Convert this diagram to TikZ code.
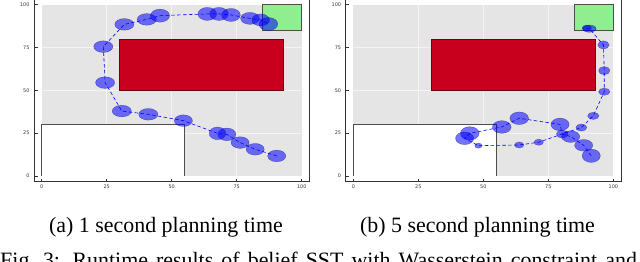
\documentclass[tikz,border=0pt]{standalone}
\usepackage{fontspec}
\setmainfont{Liberation Serif}
\newfontfamily\tickfont{DejaVu Sans}
\usetikzlibrary{calc}

\definecolor{obstred}{RGB}{200,0,30}
\definecolor{goalgreen}{RGB}{144,238,144}
\definecolor{plotbg}{RGB}{229,229,229}

\begin{document}
\begin{tikzpicture}[x=0.03cm,y=0.03cm,
  blobstyle/.style={fill=blue,fill opacity=0.55,draw=blue!35!black,draw opacity=0.45,line width=0.3pt},
  trajline/.style={blue,densely dashed,line width=0.5pt},
  ticklabel/.style={font=\tickfont\fontsize{4.2}{5}\selectfont,text=black!80,inner sep=0.5pt},
  captext/.style={font=\fontsize{18.7}{22}\selectfont,inner sep=0pt}]

\useasboundingbox (0,0) rectangle (640,262);

% ---- one panel: workspace [0,100]x[0,100] with obstacles and goal ----
\newcommand{\drawpanel}[1]{
  \fill[plotbg] (0,0) rectangle (100,100);
  \foreach \g in {25,50,75} {
    \draw[white,opacity=0.6,line width=0.4pt] (\g,0) -- (\g,100);
    \draw[white,opacity=0.6,line width=0.4pt] (0,\g) -- (100,\g);
  }
  % start region, obstacle, goal
  \fill[white] (0,0) rectangle (55,30);
  \draw[black!70,line width=0.6pt] (0,0) -- (0,30) -- (55,30) -- (55,0);
  \draw[fill=obstred,draw=obstred!55!black,line width=0.4pt] (30,50) rectangle (93,80);
  \draw[fill=goalgreen,draw=black!70,line width=0.5pt] (85,85) rectangle (100,100);
  % axes and ticks
  \draw[black!80,line width=0.6pt] (-3,102.8) -- (-3,-2.9) -- (102.9,-2.9) -- (102.9,102.8);
  \foreach \t in {0,25,50,75,100} {
    \draw[black!80,line width=0.4pt] (\t,-2.9) -- (\t,-1.5);
    \draw[black!80,line width=0.4pt] (-3,\t) -- (-1.6,\t);
    \node[ticklabel,anchor=north] (#1x\t) at (\t,-4.6) {\t};
    \node[ticklabel,anchor=east] (#1y\t) at (-4.4,\t) {\t};
  }
}

% ---- belief ellipse: \blob{name}{x,y}{x radius}{y radius}
\newcommand{\blob}[4]{
  \coordinate (#1) at (#2);
  \draw[blobstyle] (#1) ellipse [x radius=#3, y radius=#4];
}

% (a) 1 second
\begin{scope}[xshift=1.251cm,yshift=2.58cm,x=0.078cm,y=0.05139cm]
  \drawpanel{L}
  \blob{la}{90.4,11.7}{3.5}{3.4}
  \blob{lb}{82.1,15.6}{3.5}{3.4}
  \blob{lc}{76.3,19.5}{3.5}{3.4}
  \blob{ld}{71.2,24.3}{3.5}{3.7}
  \blob{le}{67.6,24.9}{3.2}{3.7}
  \blob{lf}{54.5,32.3}{3.5}{3.4}
  \blob{lg}{41.0,36.0}{3.7}{3.4}
  \blob{lh}{30.8,37.9}{3.7}{3.4}
  \blob{li}{24.4,54.5}{3.7}{3.4}
  \blob{lj}{23.7,75.5}{3.7}{3.4}
  \blob{lk}{31.8,88.5}{3.7}{3.4}
  \blob{ll}{40.4,91.4}{3.7}{3.4}
  \blob{lm}{45.5,93.6}{3.7}{3.8}
  \blob{ln}{63.7,94.6}{3.6}{3.8}
  \blob{lo}{68.2,94.6}{3.6}{3.8}
  \blob{lp}{72.8,94.0}{3.6}{3.8}
  \blob{lq}{80.1,92.0}{3.6}{3.5}
  \blob{lr}{84.2,91.1}{3.4}{3.5}
  \blob{ls}{87.2,88.7}{3.6}{3.8}
  \draw[trajline] (la) -- (lb) -- (lc) -- (ld) -- (le) -- (lf) -- (lg) -- (lh) -- (li)
    -- (lj) -- (lk) -- (ll) -- (lm) -- (ln) -- (lo) -- (lp) -- (lq) -- (lr) -- (ls);
\end{scope}

% (b) 5 seconds
\begin{scope}[xshift=10.599cm,yshift=2.58cm,x=0.078cm,y=0.05139cm]
  \drawpanel{R}
  \blob{ra}{91.5,11.8}{3.5}{3.9}
  \blob{rb}{88.6,17.9}{3.5}{3.4}
  \blob{rc}{83.6,23.0}{3.5}{3.4}
  \blob{rd}{80.3,24.5}{2.2}{2.4}
  \blob{re}{79.5,30.1}{3.5}{3.7}
  \blob{rf}{87.7,28.3}{2.1}{2.1}
  \blob{rg}{92.3,35.1}{2.2}{2.1}
  \blob{rh}{96.5,49.2}{2.2}{2.1}
  \blob{ri}{96.5,61.5}{2.2}{2.4}
  \blob{rj}{96.2,76.5}{2.2}{2.4}
  \blob{rk}{90.8,86.0}{2.6}{2.1}
  \blob{rl}{89.8,86.3}{1.8}{1.8}
  \blob{rm}{63.8,33.7}{3.6}{3.7}
  \blob{rn}{57.1,28.6}{3.6}{3.7}
  \blob{ro}{44.8,24.9}{3.6}{3.9}
  \blob{rp}{42.8,22.0}{3.5}{3.7}
  \blob{rq}{48.1,17.7}{1.4}{1.5}
  \blob{rr}{63.8,18.1}{1.8}{1.8}
  \blob{rs}{71.3,19.7}{1.8}{1.8}
  \draw[trajline] (ra) -- (rb) -- (rc) -- (rd) -- (re) -- (rm) -- (rn) -- (ro) -- (rp)
    -- (rq) -- (rr) -- (rs) -- (rd) -- (rf) -- (rg) -- (rh) -- (ri) -- (rj) -- (rk) -- (rl);
\end{scope}

% ---- captions ----
\node[captext,anchor=base] (capa) at (166,29) {(a) 1 second planning time};
\node[captext,anchor=base] (capb) at (477.5,29) {(b) 5 second planning time};
\node[captext,anchor=base west] (figcap) at (0,-6)
  {\makebox[19.1cm][s]{Fig.~3: Runtime results of belief SST with Wasserstein constraint and}};

\end{tikzpicture}
\end{document}
